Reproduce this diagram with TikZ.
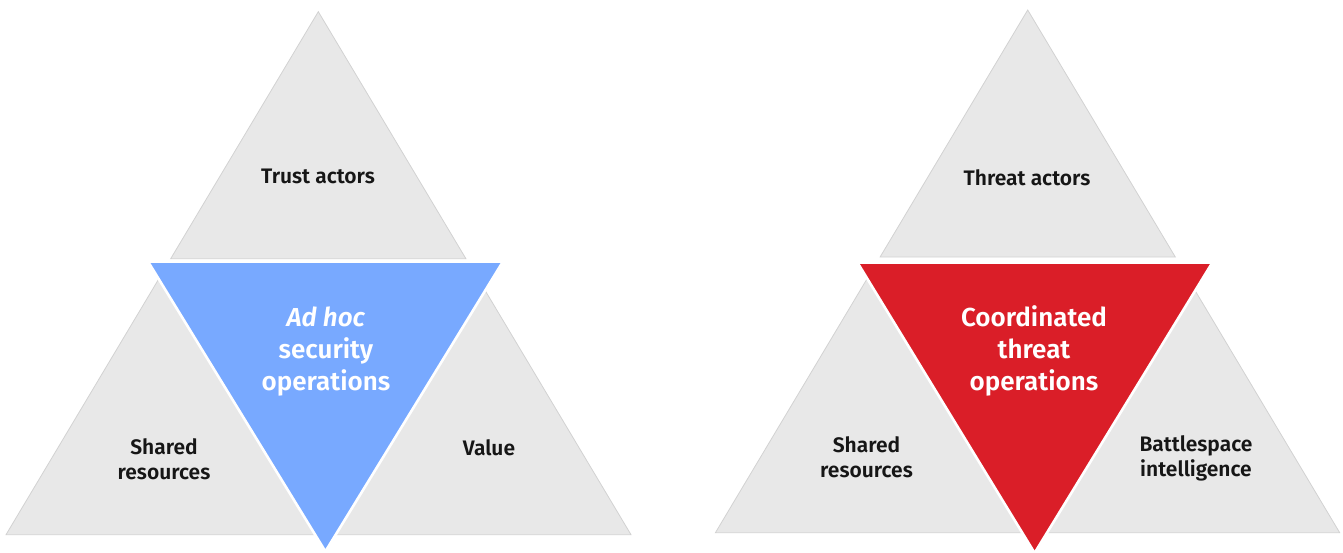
\documentclass[tikz,border=0pt]{standalone}
\usepackage{fontspec}
\setmainfont{Fira Sans}[BoldFont={Fira Sans SemiBold},BoldItalicFont={Fira Sans SemiBold Italic}]
\definecolor{greyfill}{HTML}{E8E8E8}
\definecolor{greyline}{HTML}{D2D2D2}
\definecolor{ibmblue}{HTML}{78A9FF}
\definecolor{ibmred}{HTML}{DA1E28}
\definecolor{ink}{HTML}{161616}
\begin{document}
\begin{tikzpicture}[x=1pt,y=-1pt,
  greytri/.style={fill=greyfill,draw=greyline,line width=0.8pt,line join=miter},
  centretri/.style={draw=white,line width=2.6pt,line join=miter},
  lbl/.style={font=\bfseries\fontsize{21}{25}\selectfont,text=ink,align=center,inner sep=0pt},
  clbl/.style={font=\bfseries\fontsize{26}{32}\selectfont,text=white,align=center,inner sep=0pt}]
\useasboundingbox (0,0) rectangle (1343,552);
\fill[white] (0,0) rectangle (1343,552);
% ---------- left diagram ----------
\draw[greytri] (318.3,11.7) -- (465.9,258.7) -- (170.7,258.7) -- cycle;
\draw[greytri] (163.7,270.7) -- (321.4,534.7) -- (6,534.7) -- cycle;
\draw[greytri] (473.3,270.7) -- (631,534.7) -- (315.6,534.7) -- cycle;
\draw[centretri,fill=ibmblue] (148,261.5) -- (503,261.5) -- (325.4,551.5) -- cycle;
\node[lbl] (ta) at (318,176) {Trust actors};
\node[lbl] (sr1) at (164,459.5) {Shared\\resources};
\node[lbl] (val) at (489,447.5) {Value};
\node[clbl] (ah) at (326,351.5) {\textit{Ad hoc}\\security\\operations};
% ---------- right diagram ----------
\draw[greytri] (1027.7,10) -- (1175.3,257) -- (880.1,257) -- cycle;
\draw[greytri] (873.1,268.7) -- (1030.8,532.7) -- (715.4,532.7) -- cycle;
\draw[greytri] (1182,268.7) -- (1339.7,532.7) -- (1024.3,532.7) -- cycle;
\draw[centretri,fill=ibmred] (857.4,262.5) -- (1212.4,262.5) -- (1034.6,553) -- cycle;
\node[lbl] (tha) at (1027,177.5) {Threat actors};
\node[lbl] (sr2) at (866.5,457.5) {Shared\\resources};
\node[lbl] (bi) at (1196,458.5) {Battlespace\\intelligence};
\node[clbl] (cto) at (1034,350.5) {Coordinated\\threat\\operations};
\end{tikzpicture}
\end{document}
